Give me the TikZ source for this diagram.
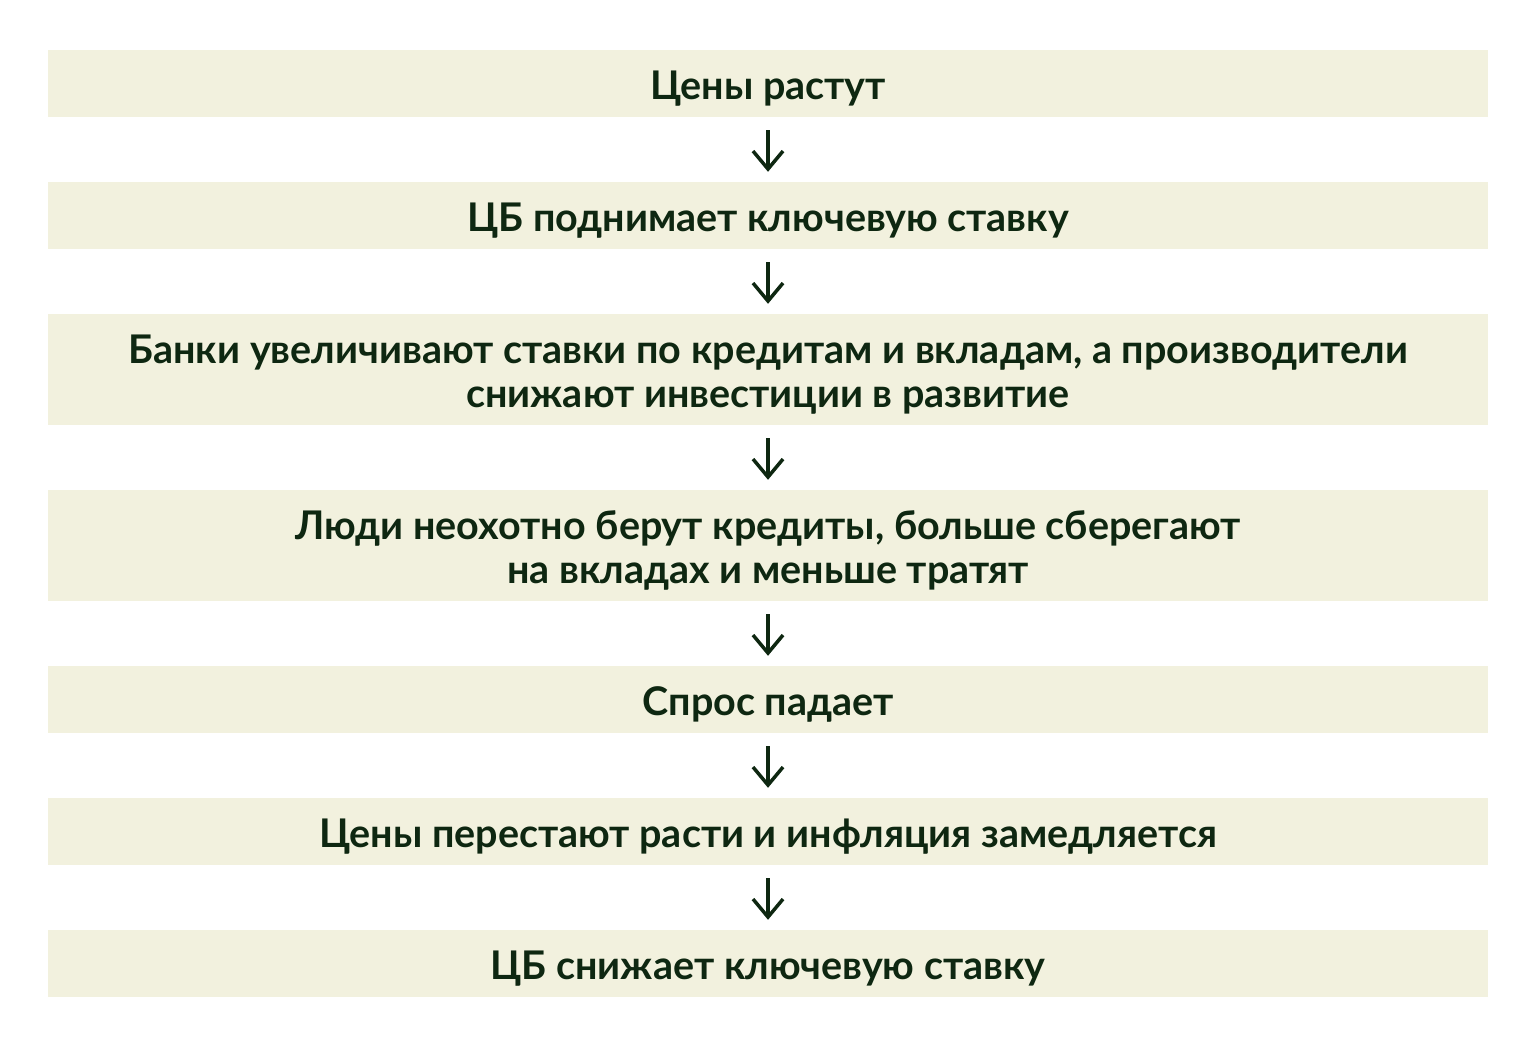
\documentclass[tikz,border=0pt]{standalone}
\usepackage{fontspec}
\setmainfont{Lato}
\usetikzlibrary{arrows.meta}
\definecolor{boxfill}{HTML}{F2F1DE}
\definecolor{ink}{HTML}{0E2711}
\tikzset{
  txt/.style={align=center, text=ink, inner sep=0pt, yshift=-5pt,
    font=\fontsize{39.5}{44}\selectfont\bfseries},
  stepbox/.style={fill=boxfill, draw=none, minimum width=1440pt, inner sep=0pt},
  onebox/.style={stepbox, minimum height=67pt},
  twobox/.style={stepbox, minimum height=111pt},
  flow/.style={draw=ink, line width=3.5pt, -{Straight Barb[length=18pt,width=30pt,line width=3.5pt]},
    shorten <=13pt, shorten >=10pt}
}
\begin{document}
\begin{tikzpicture}[x=1pt,y=-1pt]
\useasboundingbox (0,0) rectangle (1536,1048);
\node[onebox, label={[txt]center:Цены растут}] (b1) at (768,83.5) {};
\node[onebox, label={[txt]center:ЦБ поднимает ключевую ставку}] (b2) at (768,215.5) {};
\node[twobox, label={[txt]center:{Банки увеличивают ставки по кредитам и вкладам, а производители\\снижают инвестиции в развитие}}] (b3) at (768,369.5) {};
\node[twobox, label={[txt]center:{Люди неохотно берут кредиты, больше сберегают\\на вкладах и меньше тратят}}] (b4) at (768,545.5) {};
\node[onebox, label={[txt]center:Спрос падает}] (b5) at (768,699.5) {};
\node[onebox, label={[txt]center:Цены перестают расти и инфляция замедляется}] (b6) at (768,831.5) {};
\node[onebox, label={[txt]center:ЦБ снижает ключевую ставку}] (b7) at (768,963.5) {};
\foreach \a/\b in {b1/b2,b2/b3,b3/b4,b4/b5,b5/b6,b6/b7}
  \draw[flow] (\a.south) -- (\b.north);
\end{tikzpicture}
\end{document}
